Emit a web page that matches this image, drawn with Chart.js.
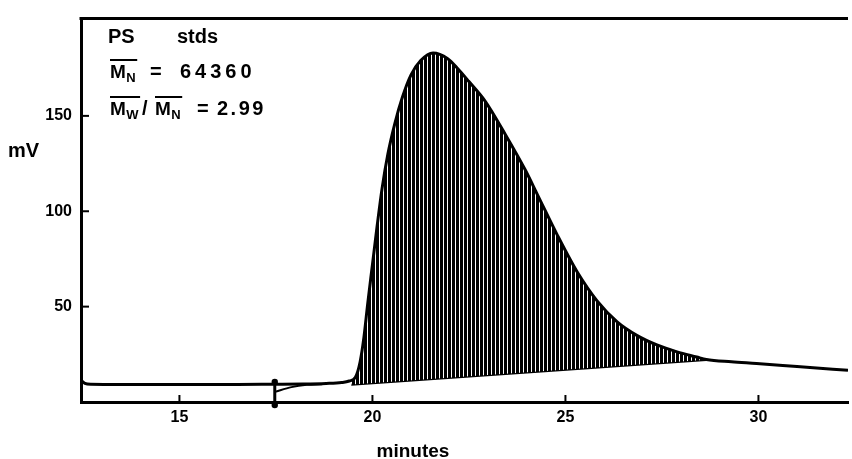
<!DOCTYPE html>
<html>
<head>
<meta charset="utf-8">
<title>PS stds chromatogram</title>
<script src="https://cdn.jsdelivr.net/npm/chart.js@4.4.0/dist/chart.umd.min.js"></script>
<style>
  html, body { margin: 0; padding: 0; background: #fff; }
  #wrap { width: 852px; height: 459px; }
</style>
</head>
<body>
<div id="wrap"><canvas id="gpcChart"></canvas></div>
<script>
// detector trace: retention time (minutes) vs signal (mV)
const traceTime = [12.47, 12.55, 12.7, 13.5, 15.0, 16.5, 17.4, 18.2, 18.8, 19.2, 19.4, 19.56, 19.68, 19.78, 19.88,
  20.0, 20.12, 20.25, 20.4, 20.58, 20.78, 21.0, 21.25, 21.57, 21.95, 22.2, 22.5, 22.91, 23.45, 23.95,
  24.28, 24.79, 25.31, 25.82, 26.34, 26.86, 27.37, 27.89, 28.4, 28.65, 29.3, 29.95, 31.0, 32.32];
const traceMV = [11, 9.8, 9.3, 9.2, 9.2, 9.2, 9.3, 9.4, 9.7, 10.2, 11.0, 13, 21, 34, 52,
  72, 92, 112, 130, 146, 160, 171.5, 179, 183, 180, 175, 168, 158, 140, 122,
  108.5, 87.5, 68, 53, 42, 34.8, 29.9, 26.3, 23.6, 22.3, 21.1, 20.2, 18.6, 16.6];

// integration baseline under the peak
const baseTime = [19.45, 28.65];
const baseMV = [9.2, 22.2];

// injection marker and its small transient
const markTime = [17.47, 17.47];
const markMV = [10.5, -1.6];
const kickTime = [17.47, 17.9, 18.3, 18.7];
const kickMV = [5.3, 7.8, 9.0, 9.3];

const xTicks = [15, 20, 25, 30];
const yTicks = [50, 100, 150];

const toPoints = (xs, ys) => xs.map((x, i) => ({ x: x, y: ys[i] }));

// vertical hatching for the peak area
function makeHatch() {
  const c = document.createElement('canvas');
  c.width = 4; c.height = 4;
  const g = c.getContext('2d');
  g.fillStyle = '#fff';
  g.fillRect(0, 0, 4, 4);
  g.fillStyle = '#000';
  g.fillRect(0, 0, 3, 4);
  return g.createPattern(c, 'repeat');
}

const FONT = '"Liberation Sans", Arial, sans-serif';

// M with an overbar and a subscript
function drawMbar(ctx, x, base, sub) {
  ctx.font = 'bold 19px ' + FONT;
  ctx.fillText('M', x, base);
  const mw = ctx.measureText('M').width;
  ctx.font = 'bold 13px ' + FONT;
  ctx.fillText(sub, x + mw + 0.5, base + 4);
  const sw = ctx.measureText(sub).width;
  ctx.lineWidth = 2;
  ctx.beginPath();
  ctx.moveTo(x, base - 18);
  ctx.lineTo(x + mw + sw + 2, base - 18);
  ctx.stroke();
  return x + mw + sw;
}

const frameAndNotes = {
  id: 'frameAndNotes',
  afterDraw(chart) {
    const { ctx, chartArea: a, scales: { x, y } } = chart;
    ctx.save();
    ctx.strokeStyle = '#000';
    ctx.fillStyle = '#000';

    // top edge of the frame
    ctx.lineWidth = 3;
    ctx.beginPath();
    ctx.moveTo(a.left - 1.5, a.top);
    ctx.lineTo(a.right, a.top);
    ctx.stroke();

    // inward tick marks
    ctx.lineWidth = 2;
    xTicks.forEach(v => {
      const px = x.getPixelForValue(v);
      ctx.beginPath();
      ctx.moveTo(px, a.bottom);
      ctx.lineTo(px, a.bottom - 7);
      ctx.stroke();
    });
    yTicks.forEach(v => {
      const py = y.getPixelForValue(v);
      ctx.beginPath();
      ctx.moveTo(a.left, py);
      ctx.lineTo(a.left + 8, py);
      ctx.stroke();
    });

    ctx.textBaseline = 'alphabetic';
    ctx.textAlign = 'left';

    // axis titles
    ctx.font = 'bold 20px ' + FONT;
    ctx.fillText('mV', 8, 157);
    ctx.font = 'bold 19px ' + FONT;
    ctx.textAlign = 'center';
    ctx.fillText('minutes', 413, 457);
    ctx.textAlign = 'left';

    // sample notes
    ctx.font = 'bold 20px ' + FONT;
    ctx.fillText('PS', 108, 43);
    ctx.fillText('stds', 177, 43);

    drawMbar(ctx, 110, 78, 'N');
    ctx.font = 'bold 20px ' + FONT;
    ctx.fillText('=', 150, 78);
    ctx.letterSpacing = '4px';
    ctx.fillText('64360', 180, 78);
    ctx.letterSpacing = '0px';

    drawMbar(ctx, 110, 115, 'W');
    ctx.font = 'bold 20px ' + FONT;
    ctx.fillText('/', 142, 115);
    drawMbar(ctx, 155, 115, 'N');
    ctx.font = 'bold 20px ' + FONT;
    ctx.fillText('=', 197, 115);
    ctx.letterSpacing = '2.5px';
    ctx.fillText('2.99', 217, 115);
    ctx.letterSpacing = '0px';

    ctx.restore();
  }
};

const hatch = makeHatch();

new Chart(document.getElementById('gpcChart'), {
  type: 'line',
  data: {
    datasets: [
      {
        data: toPoints(traceTime, traceMV),
        borderColor: '#000',
        borderWidth: 3,
        pointRadius: 0,
        cubicInterpolationMode: 'monotone',
        fill: { target: 1, above: hatch, below: hatch }
      },
      {
        data: toPoints(baseTime, baseMV),
        borderColor: '#000',
        borderWidth: 2.5,
        pointRadius: 0,
        fill: false
      },
      {
        data: toPoints(markTime, markMV),
        borderColor: '#000',
        borderWidth: 3,
        pointRadius: 3.2,
        pointBackgroundColor: '#000',
        pointBorderWidth: 0,
        clip: false,
        fill: false
      },
      {
        data: toPoints(kickTime, kickMV),
        borderColor: '#000',
        borderWidth: 2,
        pointRadius: 0,
        cubicInterpolationMode: 'monotone',
        fill: false
      }
    ]
  },
  options: {
    responsive: true,
    maintainAspectRatio: false,
    animation: false,
    layout: { padding: { top: 13, right: 0, left: 0, bottom: 0 } },
    plugins: {
      legend: { display: false },
      tooltip: { enabled: false }
    },
    scales: {
      x: {
        type: 'linear',
        min: 12.45,
        max: 32.32,
        afterFit: s => { s.height = 57; },
        afterBuildTicks: s => { s.ticks = xTicks.map(v => ({ value: v })); },
        grid: { display: false, drawTicks: false },
        border: { display: true, color: '#000', width: 3 },
        ticks: {
          color: '#000',
          padding: 6,
          font: { family: FONT, size: 16, weight: 'bold' }
        }
      },
      y: {
        type: 'linear',
        min: 0,
        max: 201,
        afterFit: s => { s.width = 81; },
        afterBuildTicks: s => { s.ticks = yTicks.map(v => ({ value: v })); },
        grid: { display: false, drawTicks: false },
        border: { display: true, color: '#000', width: 3 },
        ticks: {
          color: '#000',
          padding: 9,
          font: { family: FONT, size: 16, weight: 'bold' }
        }
      }
    }
  },
  plugins: [frameAndNotes]
});
</script>
</body>
</html>
